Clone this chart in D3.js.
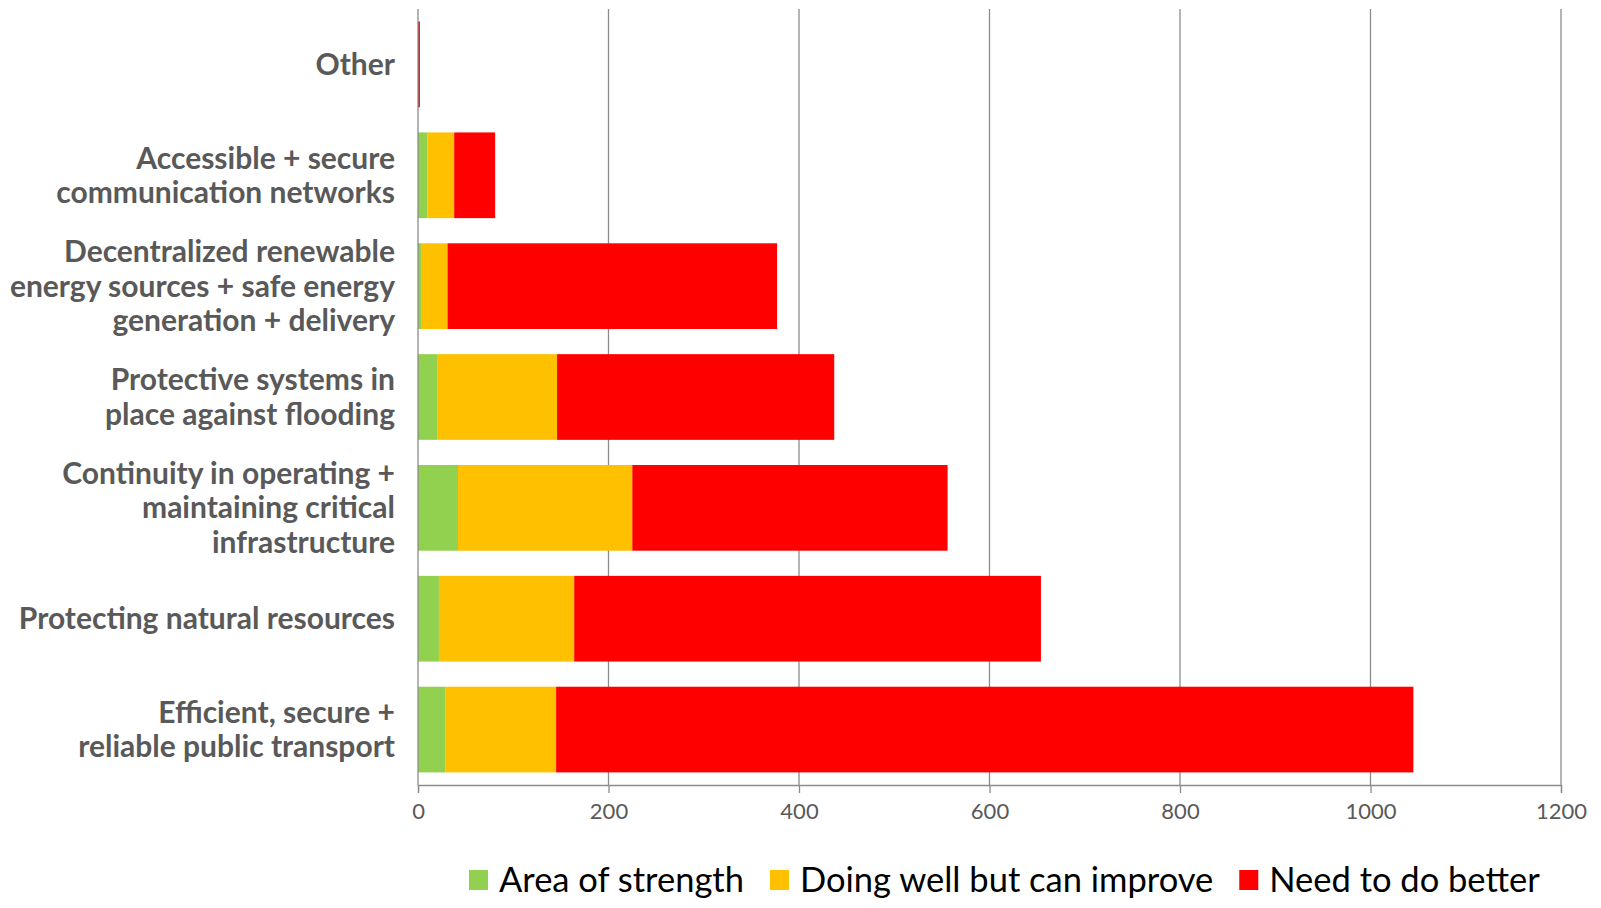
<!DOCTYPE html>
<html>
<head>
<meta charset="utf-8">
<script src="https://cdn.jsdelivr.net/npm/d3@7"></script>
<style>
  body { margin: 0; background: #fff; }
  svg text { font-family: Lato, "Open Sans", sans-serif; }
</style>
</head>
<body>
<script>
// categories, top to bottom
var categories = [
  "Other",
  "Accessible + secure|communication networks",
  "Decentralized renewable|energy sources + safe energy|generation + delivery",
  "Protective systems in|place against flooding",
  "Continuity in operating +|maintaining critical|infrastructure",
  "Protecting natural resources",
  "Efficient, secure +|reliable public transport"
];
var seriesNames = ["Area of strength", "Doing well but can improve", "Need to do better"];
var seriesColors = ["#92D050", "#FFC000", "#FF0000"];

// series values (same order as categories)
var strength = [0, 10, 4, 20, 42, 22, 29];
var doingWell = [0, 28, 27, 126, 183, 142, 116];
var doBetter = [2, 43, 346, 291, 331, 490, 900];

var xTicks = [0, 200, 400, 600, 800, 1000, 1200];

var W = 1601, H = 908;
var m_left = 418, m_right = 1561, m_top = 9, m_bottom = 785;

var svg = d3.select("body").append("svg")
  .attr("width", W)
  .attr("height", H);

var xScale = d3.scaleLinear().domain([0, 1200]).range([m_left, m_right]);
var yScale = d3.scaleBand().domain(categories).range([m_top, m_bottom])
  .paddingInner(0.227).paddingOuter(0.1135);

// gridlines
svg.append("g").selectAll("line")
  .data(xTicks.slice(1))
  .enter().append("line")
  .attr("x1", function(d) { return xScale(d); })
  .attr("x2", function(d) { return xScale(d); })
  .attr("y1", m_top)
  .attr("y2", m_bottom)
  .attr("stroke", "#8c8c8c")
  .attr("stroke-width", 1.3);

// stacked data
var table = categories.map(function(c, i) {
  return { cat: c, v0: strength[i], v1: doingWell[i], v2: doBetter[i] };
});
var stack = d3.stack().keys(["v0", "v1", "v2"])(table);

svg.append("g").selectAll("g")
  .data(stack)
  .enter().append("g")
  .attr("fill", function(d, i) { return seriesColors[i]; })
  .selectAll("rect")
  .data(function(d) { return d; })
  .enter().append("rect")
  .attr("x", function(d) { return xScale(d[0]); })
  .attr("y", function(d) { return yScale(d.data.cat); })
  .attr("width", function(d) { return xScale(d[1]) - xScale(d[0]); })
  .attr("height", yScale.bandwidth());

// x-axis
var x_axis = d3.axisBottom(xScale).tickValues(xTicks).tickFormat(d3.format("d"))
  .tickSize(8).tickPadding(10);
var gx = svg.append("g").attr("transform", "translate(0," + m_bottom + ")").call(x_axis);
gx.select(".domain").attr("stroke", "#8c8c8c").attr("stroke-width", 1.3);
gx.selectAll(".tick line").attr("stroke", "#8c8c8c").attr("stroke-width", 1.3);
gx.selectAll(".tick text")
  .attr("fill", "#595959")
  .style("font-size", "22px")
  .style("font-family", "Lato, sans-serif");

// y-axis line at zero
svg.append("line")
  .attr("x1", m_left).attr("x2", m_left)
  .attr("y1", m_top).attr("y2", m_bottom)
  .attr("stroke", "#8c8c8c").attr("stroke-width", 1.3);

// category labels
var lineH = 34.5;
categories.forEach(function(c) {
  var lines = c.split("|");
  var cy = yScale(c) + yScale.bandwidth() / 2;
  var t = svg.append("text")
    .attr("text-anchor", "end")
    .attr("fill", "#595959")
    .style("font-size", "30px")
    .style("font-weight", "bold");
  lines.forEach(function(l, j) {
    t.append("tspan")
      .attr("x", 395)
      .attr("y", cy + (j - (lines.length - 1) / 2) * lineH)
      .attr("dy", "0.35em")
      .text(l);
  });
});

// legend
var legend = svg.append("g");
var lx = 469, ly = 880;
seriesNames.forEach(function(name, i) {
  legend.append("rect")
    .attr("x", lx).attr("y", ly - 10)
    .attr("width", 19).attr("height", 20)
    .attr("fill", seriesColors[i]);
  var t = legend.append("text")
    .attr("x", lx + 30).attr("y", ly)
    .attr("dy", "0.35em")
    .attr("fill", "#000")
    .style("font-size", "34.5px")
    .text(name);
  lx = lx + 30 + t.node().getComputedTextLength() + 26;
});
</script>
</body>
</html>
